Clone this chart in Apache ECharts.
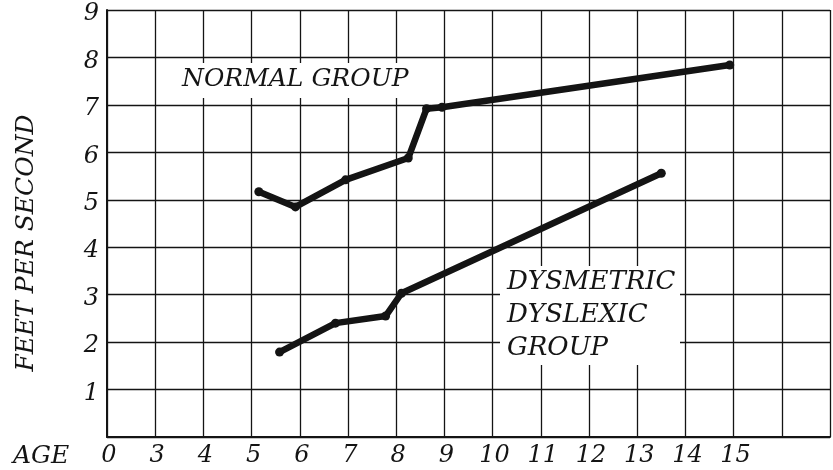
<!DOCTYPE html>
<html><head><meta charset="utf-8">
<script src="https://cdn.jsdelivr.net/npm/echarts@6/dist/echarts.min.js"></script>
<style>html,body{margin:0;padding:0;background:#fff}#c{width:833px;height:470px}</style>
</head><body><div id="c"></div>
<script>
// Age axis is broken: the first gridline (value 2) is labelled "0"
const xTickLabels = {2:'0',3:'3',4:'4',5:'5',6:'6',7:'7',8:'8',9:'9',10:'10',11:'11',12:'12',13:'13',14:'14',15:'15'};
const yTickLabels = ['', '1','2','3','4','5','6','7','8','9'];
const normalAge = [5.15, 5.91, 6.95, 8.25, 8.63, 8.95, 14.92];
const normalSpeed = [5.17, 4.85, 5.42, 5.88, 6.92, 6.95, 7.84];
const dyslexicAge = [5.58, 6.74, 7.78, 8.11, 13.5];
const dyslexicSpeed = [1.79, 2.4, 2.55, 3.03, 5.56];

const ink = '#141414';
const font = 'italic 25px "DejaVu Serif"';
const chart = echarts.init(document.getElementById('c'));
function pairs(xs, ys){ return xs.map((x,i)=>[x, ys[i]]); }
chart.setOption({
  animation:false,
  backgroundColor:'#fff',
  grid:{left:107,top:10,right:3,bottom:33},
  xAxis:{type:'value',min:2,max:17,interval:1,
    axisLine:{show:true,lineStyle:{color:ink,width:2}},
    axisTick:{show:false},
    splitLine:{show:true,lineStyle:{color:ink,width:1.3}},
    axisLabel:{margin:7,color:ink,fontFamily:'DejaVu Serif',fontStyle:'italic',fontSize:24,
      padding:[0,0,0,4],
      formatter:v=>xTickLabels[v]||''}},
  yAxis:{type:'value',min:0,max:9,interval:1,
    axisLine:{show:true,lineStyle:{color:ink,width:2}},
    axisTick:{show:false},
    splitLine:{show:true,lineStyle:{color:ink,width:1.3}},
    axisLabel:{margin:8,color:ink,fontFamily:'DejaVu Serif',fontStyle:'italic',fontSize:24,
      formatter:v=>yTickLabels[v] ? '{d|' + yTickLabels[v] + '}' : '',
      rich:{d:{color:ink,fontFamily:'DejaVu Serif',fontStyle:'italic',fontSize:24,padding:[8,0,0,0]}}}},
  graphic:[
    {type:'rect',left:177,top:63,shape:{width:243,height:35},style:{fill:'#fff'},z:1},
    {type:'text',left:182,top:67,style:{text:'NORMAL GROUP',font:font,fill:ink},z:2},
    {type:'rect',left:500,top:266,shape:{width:180,height:99},style:{fill:'#fff'},z:1},
    {type:'text',left:507,top:266,style:{text:'DYSMETRIC\nDYSLEXIC\nGROUP',font:'italic 26px "DejaVu Serif"',fill:ink,lineHeight:33},z:2},
    {type:'text',left:13,top:444,style:{text:'AGE',font:font,fill:ink},z:2},
    {type:'text',x:26,y:243,rotation:Math.PI/2,
      style:{text:'FEET PER SECOND',font:font,fill:ink,textAlign:'center',textVerticalAlign:'middle'},z:2}
  ],
  series:[
    {type:'line',data:pairs(normalAge,normalSpeed),symbol:'circle',symbolSize:9,z:5,
      lineStyle:{color:ink,width:6.5,join:'round',cap:'round'},itemStyle:{color:ink}},
    {type:'line',data:pairs(dyslexicAge,dyslexicSpeed),symbol:'circle',symbolSize:9,z:5,
      lineStyle:{color:ink,width:6.5,join:'round',cap:'round'},itemStyle:{color:ink}}
  ]
});
</script></body></html>
